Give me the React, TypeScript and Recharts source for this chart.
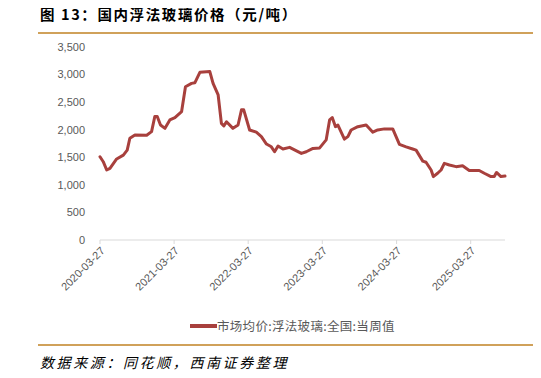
import { LineChart, Line, XAxis, YAxis } from 'recharts';

// weekly glass price (元/吨)
const dates = [
  '2020-03-27', '2020-04-12', '2020-04-29', '2020-05-15', '2020-06-17', '2020-07-20',
  '2020-08-08', '2020-08-21', '2020-09-15', '2020-11-12', '2020-12-06', '2020-12-22',
  '2021-01-03', '2021-01-19', '2021-02-10', '2021-03-06', '2021-03-31', '2021-05-03',
  '2021-05-22', '2021-06-21', '2021-07-07', '2021-08-01', '2021-09-19', '2021-10-05',
  '2021-10-30', '2021-11-15', '2021-11-27', '2021-12-10', '2022-01-11', '2022-02-05',
  '2022-02-22', '2022-03-05', '2022-04-03', '2022-05-06', '2022-05-31', '2022-06-25',
  '2022-07-19', '2022-08-04', '2022-08-21', '2022-09-14', '2022-10-17', '2022-12-14',
  '2023-01-07', '2023-02-09', '2023-03-14', '2023-04-15', '2023-05-02', '2023-05-15',
  '2023-05-31', '2023-06-12', '2023-07-14', '2023-07-31', '2023-08-16', '2023-09-18',
  '2023-10-29', '2023-12-01', '2023-12-25', '2024-01-27', '2024-03-08', '2024-04-10',
  '2024-05-13', '2024-06-14', '2024-07-01', '2024-08-03', '2024-08-19', '2024-09-13',
  '2024-09-24', '2024-10-15', '2024-11-01', '2024-11-17', '2024-12-12', '2025-01-14',
  '2025-02-15', '2025-03-20', '2025-05-08', '2025-06-02', '2025-07-05', '2025-07-21',
  '2025-08-01', '2025-08-23', '2025-09-12',
];
const prices = [
  1510, 1420, 1270, 1300, 1470, 1540,
  1630, 1845, 1905, 1900, 1965, 2240,
  2240, 2085, 2025, 2177, 2220, 2330,
  2780, 2840, 2850, 3040, 3055, 2840,
  2630, 2115, 2070, 2145, 2025, 2085,
  2360, 2360, 1995, 1955, 1875, 1740,
  1690, 1600, 1705, 1650, 1680, 1570,
  1600, 1660, 1670, 1815, 2177, 2220,
  2055, 2085, 1830, 1875, 1995, 2055,
  2085, 1955, 1995, 2015, 2015, 1735,
  1690, 1650, 1630, 1430, 1410, 1270,
  1150, 1210, 1270, 1390, 1360, 1330,
  1345, 1260, 1260, 1210, 1150, 1150,
  1225, 1150, 1160,
];
const xTicks = ['2020-03-27', '2021-03-27', '2022-03-27', '2023-03-27', '2024-03-27', '2025-03-27'];
const yTicks = [0, 500, 1000, 1500, 2000, 2500, 3000, 3500];
const seriesName = '市场均价:浮法玻璃:全国:当周值';

const data = dates.map((d, i) => ({ t: Date.parse(d), price: prices[i] }));

const fmtDate = (t: number) => new Date(t).toISOString().slice(0, 10);
const lineColor = '#a8403d';
const gold = '#d0a15a';
const cjk = '"Noto Sans CJK SC", sans-serif';
const latin = 'Liberation Sans, Arial, sans-serif';

export default function App() {
  return (
    <div style={{ position: 'relative', width: 541, height: 378, margin: -8, background: '#fff', overflow: 'hidden' }}>
      <div style={{ position: 'absolute', left: 40, top: 6, lineHeight: '16px', fontFamily: cjk, fontWeight: 700, fontSize: 14.5, letterSpacing: 1.6, color: '#000', whiteSpace: 'nowrap' }}>
        图 13：国内浮法玻璃价格（元/吨）
      </div>
      <div style={{ position: 'absolute', left: 5, top: 32, width: 3, height: 1, background: gold }} />
      <div style={{ position: 'absolute', left: 38, top: 32, width: 503, height: 1.5, background: gold }} />

      <div style={{ position: 'absolute', left: 0, top: 0 }}>
        <LineChart width={541} height={310} data={data} margin={{ top: 47, right: 36, bottom: 10, left: 40 }}>
          <XAxis
            dataKey="t"
            type="number"
            scale="time"
            domain={['dataMin', 'dataMax']}
            ticks={xTicks.map((d) => Date.parse(d))}
            tickFormatter={fmtDate}
            height={60}
            stroke="#d9d9d9"
            tickSize={4}
            angle={-45}
            textAnchor="end"
            tick={{ fontSize: 11, fill: '#595959', fontFamily: latin }}
          />
          <YAxis
            width={60}
            domain={[0, 3500]}
            ticks={yTicks}
            axisLine={false}
            tickLine={false}
            tickMargin={9}
            tickFormatter={(v: number) => v.toLocaleString('en-US')}
            tick={{ fontSize: 11, fill: '#595959', fontFamily: latin }}
          />
          <Line
            type="linear"
            dataKey="price"
            name={seriesName}
            stroke={lineColor}
            strokeWidth={3}
            strokeLinejoin="round"
            strokeLinecap="round"
            dot={false}
            isAnimationActive={false}
          />
        </LineChart>
      </div>

      {/* legend */}
      <div style={{ position: 'absolute', left: 190, top: 316, display: 'flex', alignItems: 'center', whiteSpace: 'nowrap' }}>
        <div style={{ width: 27, height: 4, background: lineColor }} />
        <span style={{ fontFamily: cjk, fontSize: 12.5, color: '#595959', letterSpacing: 0.3 }}>{seriesName}</span>
      </div>

      <div style={{ position: 'absolute', left: 5, top: 344, width: 3, height: 1, background: gold }} />
      <div style={{ position: 'absolute', left: 38, top: 344, width: 503, height: 1.5, background: gold }} />
      <div style={{ position: 'absolute', left: 40, top: 353, height: 20, lineHeight: '18px', fontFamily: cjk, fontStyle: 'italic', fontSize: 14, letterSpacing: 2.6, color: '#000', whiteSpace: 'nowrap' }}>
        数据来源：同花顺，西南证券整理
      </div>
    </div>
  );
}
